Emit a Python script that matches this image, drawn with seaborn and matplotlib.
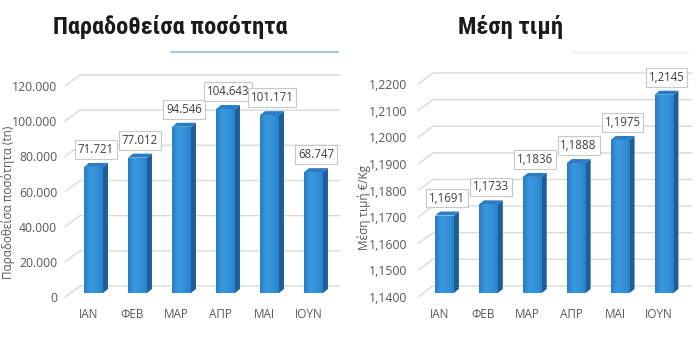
import numpy as np
import pandas as pd
import seaborn as sns
import matplotlib.pyplot as plt
from matplotlib.patches import Polygon
from matplotlib.lines import Line2D
from matplotlib.colors import LinearSegmentedColormap

months = ["ΙΑΝ", "ΦΕΒ", "ΜΑΡ", "ΑΠΡ", "ΜΑΙ", "ΙΟΥΝ"]
quantity = [71721, 77012, 94546, 104643, 101171, 68747]
price = [1.1691, 1.1733, 1.1836, 1.1888, 1.1975, 1.2145]
quantity_ticks = [0, 20000, 40000, 60000, 80000, 100000, 120000]
price_ticks = [1.14, 1.15, 1.16, 1.17, 1.18, 1.19, 1.20, 1.21, 1.22]
price_base = 1.14

sns.set_theme(style="white")
plt.rcParams["font.family"] = ["Open Sans", "DejaVu Sans"]

W, H = 700, 341
fig = plt.figure(figsize=(W / 100, H / 100), dpi=100)
fig.patch.set_facecolor("white")

TEXT = "#595959"
GRID = "#dadada"
FRONT = "#2e86cf"
SIDE = "#1c5f98"
TOP = "#2a7cc3"
face_cmap = LinearSegmentedColormap.from_list(
    "face", ["#2a7cc4", "#3a98de", "#3293da", "#2a80c8"])


def fmt_thousands(v):
    return f"{int(round(v)):,}".replace(",", ".")


def fmt_decimal(v):
    return f"{v:.4f}".replace(".", ",")


def panel(px_left, px_right, label_x0, step, y_base_px, px_per_unit,
          values, ticks, base, fmt, ylabel, ylabel_pos,
          grid_left_px, grid_right_px):
    top_px, bottom_px = 60, 300
    ax = fig.add_axes([px_left / W, 1 - bottom_px / H,
                       (px_right - px_left) / W, (bottom_px - top_px) / H])
    xlim = ((px_left - label_x0) / step, (px_right - label_x0) / step)
    ylim = (ticks[0] - (bottom_px - y_base_px) / px_per_unit,
            ticks[0] + (y_base_px - top_px) / px_per_unit)
    sx = 1.0 / step          # data units per pixel, x
    sy = 1.0 / px_per_unit   # data units per pixel, y

    # back-wall gridlines with the receding floor edge on the left
    gdx, gdy = 15 * sx, 11 * sy
    gl = (grid_left_px - label_x0) / step
    gr = (grid_right_px - label_x0) / step
    for t in ticks:
        ax.add_line(Line2D([gl, gl + gdx, gr], [t, t + gdy, t + gdy],
                           color=GRID, lw=1.0, zorder=0.5))

    df = pd.DataFrame({"month": months, "value": values})
    sns.barplot(data=df, x="month", y="value", color=FRONT, saturation=1,
                width=0.43, ax=ax, zorder=2, linewidth=0)

    ox, oy = 5 * sx, 4 * sy      # bar plane sits slightly behind the front
    dx, dy = 5 * sx, 4 * sy      # bar depth
    for p, v in zip(ax.patches, values):
        x0, w = p.get_x() + ox, p.get_width()
        b = base + oy
        top = v + oy
        p.set_x(x0)
        p.set_y(b)
        p.set_height(top - b)
        grad = np.linspace(0, 1, 64).reshape(1, -1)
        im = ax.imshow(grad, extent=[x0, x0 + w, b, top], aspect="auto",
                       cmap=face_cmap, zorder=2.1, interpolation="bilinear")
        im.set_clip_path(p)
        ax.add_patch(Polygon([(x0 + w, b), (x0 + w, top), (x0 + w + dx, top + dy),
                              (x0 + w + dx, b + dy)], closed=True,
                             fc=SIDE, ec="none", zorder=2))
        ax.add_patch(Polygon([(x0, top), (x0 + w, top), (x0 + w + dx, top + dy),
                              (x0 + dx, top + dy)], closed=True,
                             fc=TOP, ec="none", zorder=2))
        ax.annotate(fmt(v), xy=(x0 + (w + dx) / 2, top + dy), xytext=(0, 5),
                    textcoords="offset points", ha="center", va="bottom",
                    fontsize=8.3, color="#404040", zorder=3,
                    bbox=dict(boxstyle="square,pad=0.25", fc="white",
                              ec="#c8c8c8", lw=0.8))

    ax.set_xlim(*xlim)
    ax.set_ylim(*ylim)
    ax.set_yticks(ticks)
    ax.set_yticklabels([fmt(t) for t in ticks])
    ax.tick_params(axis="y", length=0, pad=2, labelsize=8.8, labelcolor=TEXT)
    ax.tick_params(axis="x", length=0, pad=6, labelsize=8.5, labelcolor=TEXT)
    ax.set_xlabel("")
    ax.set_ylabel(ylabel, fontsize=8.5, color=TEXT)
    ax.yaxis.set_label_coords((ylabel_pos[0] - px_left) / (px_right - px_left),
                              (bottom_px - ylabel_pos[1]) / (bottom_px - top_px))
    for s in ax.spines.values():
        s.set_visible(False)
    ax.set_facecolor("none")
    return ax


panel(60, 345, 88.5, 44.0, 297, 1.758 / 1000, quantity, quantity_ticks, 0,
      fmt_thousands, "Παραδοθείσα ποσότητα (tn)", (15, 202), 65, 340)
panel(410, 695, 439.5, 43.9, 297, 2662.0, price, price_ticks, price_base,
      fmt_decimal, "Μέση τιμή €/Kg", (371, 208), 418, 692)

title_font = ["Roboto Condensed", "DejaVu Sans Condensed", "Roboto", "DejaVu Sans"]
fig.text(170 / W, 1 - 34 / H, "Παραδοθείσα ποσότητα", ha="center", va="baseline",
         fontsize=17.6, fontweight="bold", fontstretch="condensed",
         family=title_font, color="#1a1a1a")
fig.text(511 / W, 1 - 34 / H, "Μέση τιμή", ha="center", va="baseline",
         fontsize=17.6, fontweight="bold", fontstretch="condensed",
         family=title_font, color="#1a1a1a")
fig.add_artist(Line2D([171 / W, 338 / W], [1 - 52 / H, 1 - 52 / H],
                      color="#a9c8dd", lw=1.5))
fig.add_artist(Line2D([572 / W, 688 / W], [1 - 52 / H, 1 - 52 / H],
                      color="#ededed", lw=1.0))

fig.savefig("out.png", dpi=100, facecolor="white")
